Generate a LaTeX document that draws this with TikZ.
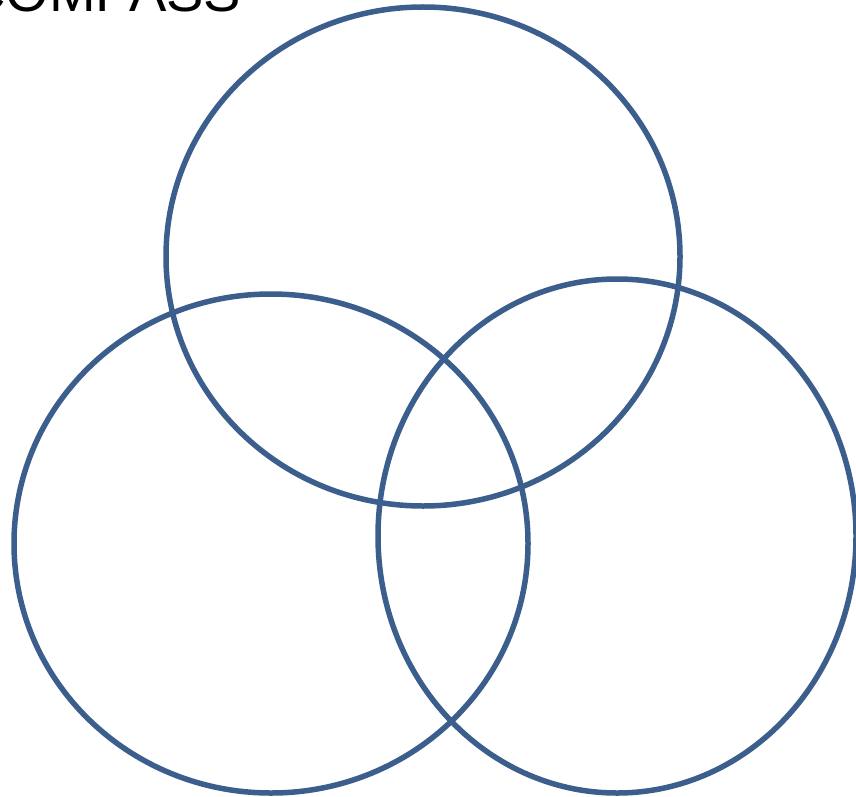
\documentclass[tikz,border=0pt]{standalone}
\usepackage{fontspec}
\setmainfont{Liberation Sans}
\usetikzlibrary{shapes.geometric}
\definecolor{ringblue}{RGB}{59,94,140}
\tikzset{
  ring/.style={draw=ringblue, line width=5.5pt, ellipse, inner sep=0pt, fill=none},
  titletext/.style={inner sep=0pt, anchor=base west, font=\fontsize{56}{62}\selectfont, text=black}
}
\begin{document}
\begin{tikzpicture}[x=1pt,y=-1pt]
\useasboundingbox (0,0) rectangle (856,797);
\clip (0,0) rectangle (856,797);
\fill[white] (0,0) rectangle (856,797);
\node[titletext] (title) at (-35,12) {COMPASS};
\node[ring, minimum width=514pt, minimum height=499pt] (top) at (423,256.5) {};
\node[ring, minimum width=514pt, minimum height=499pt] (left) at (271,543.5) {};
\node[ring, minimum width=478pt, minimum height=514pt] (right) at (617,536) {};
\end{tikzpicture}
\end{document}
